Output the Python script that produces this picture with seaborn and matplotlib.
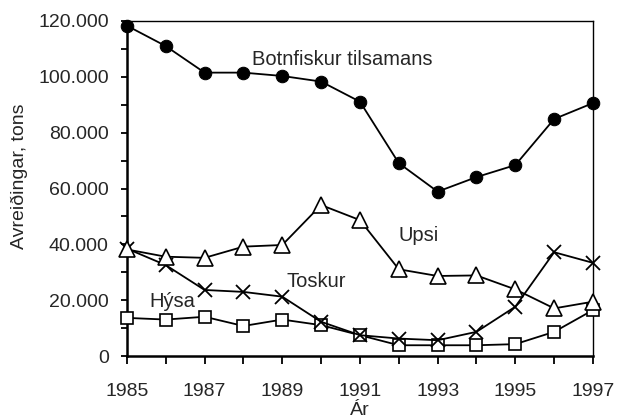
import matplotlib
matplotlib.use("Agg")
import matplotlib.pyplot as plt
from matplotlib.ticker import MultipleLocator, FixedLocator, FuncFormatter
import seaborn as sns
import pandas as pd

years = list(range(1985, 1998))
botnfiskur = [118300, 111000, 101500, 101500, 100300, 98300, 91100, 69100, 58900, 64100, 68400, 84900, 90600]
upsi = [38200, 35600, 35200, 39200, 39800, 54100, 48700, 31100, 28700, 28900, 23900, 17100, 19500]
toskur = [38500, 32600, 23700, 23000, 21300, 12300, 7500, 6300, 5700, 8700, 17700, 37200, 33400]
hysa = [13700, 13100, 14100, 10800, 13100, 11100, 7500, 3900, 3900, 3900, 4300, 8700, 16500]
year_labels = [1985, 1987, 1989, 1991, 1993, 1995, 1997]

df = pd.DataFrame({"year": years, "Botnfiskur": botnfiskur, "Upsi": upsi,
                   "Toskur": toskur, "Hýsa": hysa})

sns.set_style("ticks")
plt.rcParams["font.family"] = ["Liberation Sans", "DejaVu Sans"]
plt.rcParams["font.size"] = 14

fig = plt.figure(figsize=(6.19, 4.19), dpi=100)
ax = fig.add_axes([0.205, 0.150, 0.753, 0.800])

# series styles (Excel-like markers)
styles = {
    "Hýsa": dict(marker="s", markersize=9, markerfacecolor="white", markeredgecolor="black", markeredgewidth=1.2),
    "Toskur": dict(marker="x", markersize=10, markeredgecolor="black", markeredgewidth=1.3),
    "Upsi": dict(marker="^", markersize=11, markerfacecolor="white", markeredgecolor="black", markeredgewidth=1.2),
    "Botnfiskur": dict(marker="o", markersize=9, markerfacecolor="black", markeredgecolor="black"),
}
for name, st in styles.items():
    sns.lineplot(data=df, x="year", y=name, ax=ax, color="black", linewidth=1.3,
                 clip_on=False, zorder=3, **st)

ax.set_xlim(1985, 1997)
ax.set_ylim(0, 120000)
ax.xaxis.set_major_locator(FixedLocator(year_labels))
ax.xaxis.set_minor_locator(MultipleLocator(1))
ax.yaxis.set_major_locator(MultipleLocator(20000))
ax.yaxis.set_minor_locator(MultipleLocator(10000))
ax.yaxis.set_major_formatter(FuncFormatter(lambda v, p: f"{int(v):,}".replace(",", ".")))

ax.tick_params(axis="both", which="both", direction="out", color="black", width=1.3)
ax.tick_params(axis="x", which="both", length=6, pad=13, labelsize=14)
ax.tick_params(axis="y", which="both", length=4, pad=9, labelsize=14)
for s in ax.spines.values():
    s.set_color("black")
    s.set_linewidth(1.0)
ax.spines["left"].set_linewidth(1.8)
ax.spines["bottom"].set_linewidth(1.8)

ax.set_xlabel("Ár", fontsize=14, va="top")
ax.set_ylabel("Avreiðingar, tons", fontsize=14)
ax.xaxis.set_label_coords(0.5, -0.138)
ax.yaxis.set_label_coords(-0.212, 0.537)

ax.text(1988.22, 104300, "Botnfiskur tilsamans", fontsize=14.5)
ax.text(1992.0, 41300, "Upsi", fontsize=14.5)
ax.text(1989.12, 24700, "Toskur", fontsize=14.5)
ax.text(1985.59, 17600, "Hýsa", fontsize=14.5)

fig.savefig("out.png", dpi=100)
